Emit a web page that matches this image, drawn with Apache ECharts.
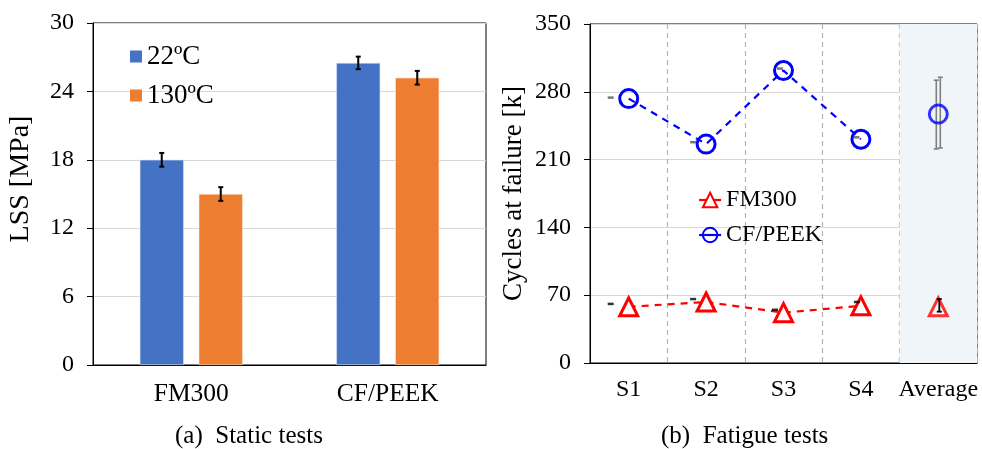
<!DOCTYPE html>
<html>
<head>
    <meta charset="utf-8">
    <title>LSS and fatigue</title>
    <script src="https://cdn.jsdelivr.net/npm/echarts@6/dist/echarts.min.js"></script>
    <style>
        html, body { margin: 0; padding: 0; background: #fff; }
    </style>
</head>
<body>
    <div id="main" style="width: 982px;height:449px;"></div>
    <script type="text/javascript">
        // (a) static tests
        var materials = ['FM300', 'CF/PEEK'];
        var lss22 = [18, 26.5];
        var lss22Err = [0.6, 0.55];
        var lss130 = [15, 25.2];
        var lss130Err = [0.6, 0.6];

        // (b) fatigue tests
        var specimens = ['S1', 'S2', 'S3', 'S4', 'Average'];
        var fm300Cycles = [58, 63, 52, 59, '-'];
        var peekCycles = [273, 226, 302, 231, '-'];
        var fm300Avg = 58;
        var fm300AvgRange = [53, 66];
        var peekAvg = 257;
        var peekAvgRangeA = [221, 292];
        var peekAvgRangeB = [222, 295];
        // stray little dashes left of each point in the original
        var peekDash = [274, 228, 304, 233];
        var fm300Dash = [61, 66, 55, 63];

        var serif = 'Liberation Serif';
        var myChart = echarts.init(document.getElementById('main'));

        // error bar drawn with the axis scales
        function errBar(offset, color, cap, width) {
            return function (params, api) {
                var c = api.value(0);
                var lo = api.coord([c, api.value(1)]);
                var hi = api.coord([c, api.value(2)]);
                var x = lo[0] + offset;
                var st = {stroke: color, lineWidth: width};
                return {type: 'group', children: [
                    {type: 'line', shape: {x1: x, y1: lo[1], x2: x, y2: hi[1]}, style: st},
                    {type: 'line', shape: {x1: x - cap, y1: lo[1], x2: x + cap, y2: lo[1]}, style: st},
                    {type: 'line', shape: {x1: x - cap, y1: hi[1], x2: x + cap, y2: hi[1]}, style: st}
                ]};
            };
        }

        function rangeData(vals, errs) {
            return vals.map(function (v, i) { return [i, v - errs[i], v + errs[i]]; });
        }

        function dashData(vals, offs) {
            return vals.map(function (v, i) { return {value: [i, v], symbolOffset: [offs[i], 0]}; });
        }

        var axisText = {fontFamily: serif, fontSize: 24, color: '#000'};

        myChart.setOption({
            animation: false,
            grid: [
                {left: 93, top: 23, width: 393, height: 342, show: true, borderColor: '#000', borderWidth: 1, backgroundColor: 'transparent'},
                {left: 590, top: 24, width: 387, height: 339, show: true, borderColor: '#000', borderWidth: 1, backgroundColor: 'transparent'}
            ],
            legend: [
                {
                    data: ['22ºC', '130ºC'],
                    orient: 'vertical', left: 125, top: 38,
                    itemWidth: 12, itemHeight: 12, itemGap: 12,
                    icon: 'rect',
                    itemStyle: {borderWidth: 0},
                    textStyle: {fontFamily: serif, fontSize: 27, color: '#000', lineHeight: 27}
                },
                {
                    data: ['FM300', 'CF/PEEK'],
                    orient: 'vertical', left: 693, top: 183,
                    itemWidth: 22, itemHeight: 18, itemGap: 11,
                    lineStyle: {type: 'solid', width: 2.2},
                    textStyle: {fontFamily: serif, fontSize: 24, color: '#000', lineHeight: 24}
                }
            ],
            xAxis: [
                {
                    gridIndex: 0, type: 'category', data: materials,
                    axisLine: {lineStyle: {color: '#000'}},
                    axisTick: {length: 8, lineStyle: {color: '#000'}},
                    axisLabel: Object.assign({margin: 16}, axisText, {fontSize: 25.5})
                },
                {
                    gridIndex: 1, type: 'category', data: specimens,
                    axisLine: {lineStyle: {color: '#000'}},
                    axisTick: {length: 7, lineStyle: {color: '#000'}},
                    axisLabel: Object.assign({margin: 15, interval: 0}, axisText),
                    splitLine: {show: true, interval: 0, lineStyle: {color: '#b4b4b4', type: [5, 4], width: 1.2}}
                }
            ],
            yAxis: [
                {
                    gridIndex: 0, type: 'value', min: 0, max: 30, interval: 6,
                    name: 'LSS [MPa]', nameLocation: 'middle', nameGap: 58,
                    nameTextStyle: {fontFamily: serif, fontSize: 28, color: '#000', padding: [0, 0, 0, 30]},
                    axisLine: {show: true, lineStyle: {color: '#000'}},
                    axisTick: {show: true, length: 6, lineStyle: {color: '#000'}},
                    axisLabel: Object.assign({margin: 19}, axisText),
                    splitLine: {lineStyle: {color: '#d9d9d9'}}
                },
                {
                    gridIndex: 1, type: 'value', min: 0, max: 350, interval: 70,
                    name: 'Cycles at failure [k]', nameLocation: 'middle', nameGap: 63,
                    nameTextStyle: {fontFamily: serif, fontSize: 27, color: '#000'},
                    axisLine: {show: true, lineStyle: {color: '#000'}},
                    axisTick: {show: true, length: 6, lineStyle: {color: '#000'}},
                    axisLabel: Object.assign({margin: 19}, axisText),
                    splitLine: {lineStyle: {color: '#d9d9d9'}}
                }
            ],
            graphic: [
                {type: 'text', left: 175, top: 424, style: {text: '(a)  Static tests', font: '25px "Liberation Serif"', fill: '#000'}},
                {type: 'text', left: 661, top: 424, style: {text: '(b)  Fatigue tests', font: '25px "Liberation Serif"', fill: '#000'}}
            ],
            series: [
                {
                    name: '22ºC', type: 'bar', xAxisIndex: 0, yAxisIndex: 0,
                    data: lss22, barWidth: 44, barGap: '34%',
                    itemStyle: {color: '#4472C4', borderColor: '#dbe3f3', borderWidth: 0.6}
                },
                {
                    name: '130ºC', type: 'bar', xAxisIndex: 0, yAxisIndex: 0,
                    data: lss130, barWidth: 44,
                    itemStyle: {color: '#ED7D31', borderColor: '#fbe0cf', borderWidth: 0.6}
                },
                {
                    type: 'custom', xAxisIndex: 0, yAxisIndex: 0, z: 5,
                    renderItem: errBar(-29.5, '#000', 2.5, 2),
                    data: rangeData(lss22, lss22Err)
                },
                {
                    type: 'custom', xAxisIndex: 0, yAxisIndex: 0, z: 5,
                    renderItem: errBar(29.5, '#000', 2.5, 2),
                    data: rangeData(lss130, lss130Err)
                },
                // shaded band behind the Average column
                {
                    type: 'bar', xAxisIndex: 1, yAxisIndex: 1, z: 0, silent: true,
                    data: ['-', '-', '-', '-', 350], barWidth: '100%',
                    itemStyle: {color: '#f0f5fa'}
                },
                {
                    name: 'FM300', type: 'line', xAxisIndex: 1, yAxisIndex: 1,
                    data: fm300Cycles, symbol: 'triangle', symbolSize: 18,
                    lineStyle: {color: '#ff0000', width: 2.2, type: [7, 6]},
                    itemStyle: {color: '#fff', borderColor: '#ff0000', borderWidth: 3}
                },
                {
                    name: 'CF/PEEK', type: 'line', xAxisIndex: 1, yAxisIndex: 1,
                    data: peekCycles, symbol: 'circle', symbolSize: 18,
                    lineStyle: {color: '#0000ff', width: 2.2, type: [7, 6]},
                    itemStyle: {color: 'rgba(255,255,255,0)', borderColor: '#0000ff', borderWidth: 3}
                },
                {
                    type: 'custom', xAxisIndex: 1, yAxisIndex: 1, z: 3,
                    renderItem: errBar(-2, '#7f7f7f', 2.5, 1.6),
                    data: [[4, peekAvgRangeA[0], peekAvgRangeA[1]]]
                },
                {
                    type: 'custom', xAxisIndex: 1, yAxisIndex: 1, z: 3,
                    renderItem: errBar(2, '#7f7f7f', 2.5, 1.6),
                    data: [[4, peekAvgRangeB[0], peekAvgRangeB[1]]]
                },
                {
                    name: 'FM300', type: 'scatter', xAxisIndex: 1, yAxisIndex: 1, z: 4,
                    data: [[4, fm300Avg]], symbol: 'triangle', symbolSize: 18,
                    itemStyle: {color: 'rgba(255,255,255,0)', borderColor: '#ff0000', borderWidth: 3}
                },
                {
                    name: 'CF/PEEK', type: 'scatter', xAxisIndex: 1, yAxisIndex: 1, z: 4,
                    data: [[4, peekAvg]], symbol: 'circle', symbolSize: 18,
                    itemStyle: {color: 'rgba(255,255,255,0)', borderColor: '#0000ff', borderWidth: 3}
                },
                {
                    type: 'custom', xAxisIndex: 1, yAxisIndex: 1, z: 6,
                    renderItem: errBar(1, '#000', 2.5, 1.8),
                    data: [[4, fm300AvgRange[0], fm300AvgRange[1]]]
                },
                {
                    type: 'scatter', xAxisIndex: 1, yAxisIndex: 1, z: 6, silent: true,
                    symbol: 'rect', symbolSize: [6, 2.5],
                    itemStyle: {color: '#555'},
                    data: dashData(peekDash, [-18, -13, -3.5, -4.5])
                },
                {
                    type: 'scatter', xAxisIndex: 1, yAxisIndex: 1, z: 6, silent: true,
                    symbol: 'rect', symbolSize: [6, 2.5],
                    itemStyle: {color: '#000'},
                    data: dashData(fm300Dash, [-18, -13, -8.5, -4])
                }
            ]
        });
    </script>
</body>
</html>
